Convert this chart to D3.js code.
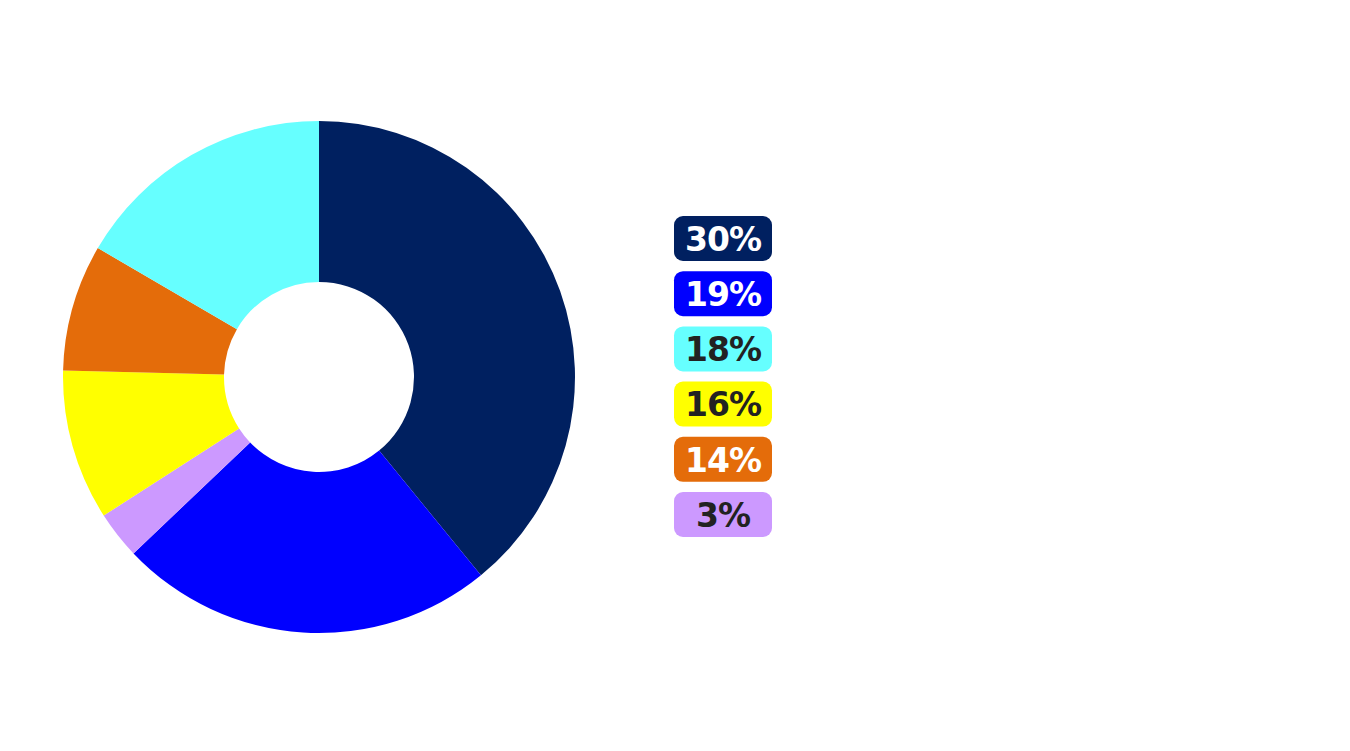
<!DOCTYPE html>
<html>
<head>
<meta charset="utf-8">
<script src="https://cdn.jsdelivr.net/npm/d3@7"></script>
<style>
  html, body { margin: 0; padding: 0; background: #fff; }
</style>
</head>
<body>
<div id="chart"></div>
<script>
var WIDTH = 1350;
var HEIGHT = 751;

// slice shares (clockwise from 12 o'clock)
var sliceNames = ["navy", "blue", "lavender", "yellow", "orange", "cyan"];
var sliceValues = [39.1, 23.8, 3.0, 9.5, 8.0, 16.6];
var sliceColors = ["#002060", "#0000FF", "#CC99FF", "#FFFF00", "#E46C0A", "#66FFFF"];

// badge labels on the right
var badgeLabels = ["30%", "19%", "18%", "16%", "14%", "3%"];
var badgeColors = ["#002060", "#0000FF", "#66FFFF", "#FFFF00", "#E46C0A", "#CC99FF"];
var badgeText = ["#FFFFFF", "#FFFFFF", "#222222", "#222222", "#FFFFFF", "#222222"];

function makeChart()
{
    var svg = d3.select("#chart").append("svg")
                .attr("width", WIDTH)
                .attr("height", HEIGHT);

    var pie = d3.pie().sort(null).value(function(d) { return d; });
    var arc = d3.arc().innerRadius(95).outerRadius(256);

    var donut = svg.append("g")
                   .attr("transform", "translate(319,377)");

    donut.selectAll("path")
         .data(pie(sliceValues))
         .enter().append("path")
         .attr("d", arc)
         .style("fill", function(d, i) { return sliceColors[i]; });

    var y = d3.scaleBand()
              .domain(d3.range(badgeLabels.length))
              .range([216, 537])
              .paddingInner(0.185)
              .paddingOuter(0);

    var badge = svg.selectAll(".badge")
                   .data(badgeLabels)
                   .enter().append("g")
                   .attr("class", "badge")
                   .attr("transform", function(d, i) { return "translate(674," + y(i) + ")"; });

    badge.append("rect")
         .attr("width", 98)
         .attr("height", y.bandwidth())
         .attr("rx", 9)
         .style("fill", function(d, i) { return badgeColors[i]; });

    badge.append("text")
         .attr("x", 49)
         .attr("y", y.bandwidth() / 2)
         .attr("dy", "0.37em")
         .attr("text-anchor", "middle")
         .style("font-family", "'DejaVu Sans', sans-serif")
         .style("font-weight", "bold")
         .style("font-size", "33px")
         .style("letter-spacing", "-1px")
         .style("fill", function(d, i) { return badgeText[i]; })
         .text(function(d) { return d; });
}

makeChart();
</script>
</body>
</html>
